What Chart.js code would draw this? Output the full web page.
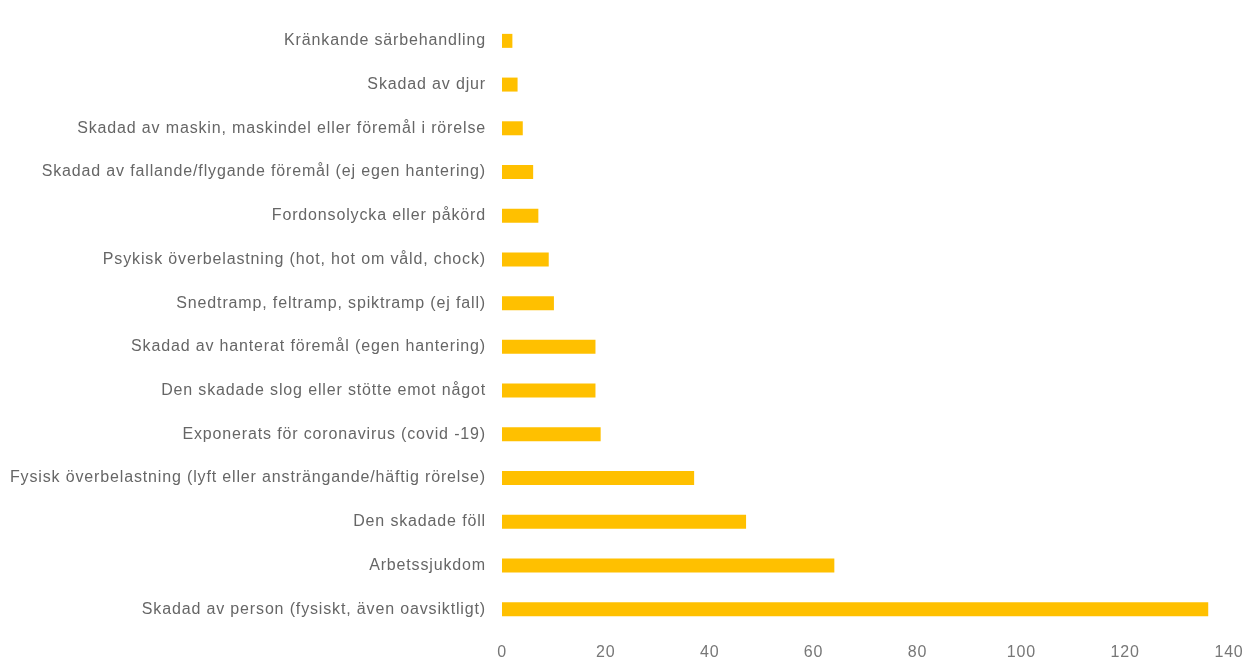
<!DOCTYPE html>
<html>
<head>
<meta charset="utf-8">
<script src="https://cdn.jsdelivr.net/npm/chart.js@4"></script>
<style>
html,body{margin:0;padding:0;background:#fff;}
#wrap{width:1246px;height:660px;position:relative;}
</style>
</head>
<body>
<div id="wrap"><canvas id="c" width="1246" height="660"></canvas></div>
<script>
const categories = [
  "Kränkande särbehandling",
  "Skadad av djur",
  "Skadad av maskin, maskindel eller föremål i rörelse",
  "Skadad av fallande/flygande föremål (ej egen hantering)",
  "Fordonsolycka eller påkörd",
  "Psykisk överbelastning (hot, hot om våld, chock)",
  "Snedtramp, feltramp, spiktramp (ej fall)",
  "Skadad av hanterat föremål (egen hantering)",
  "Den skadade slog eller stötte emot något",
  "Exponerats för coronavirus (covid -19)",
  "Fysisk överbelastning (lyft eller ansträngande/häftig rörelse)",
  "Den skadade föll",
  "Arbetssjukdom",
  "Skadad av person (fysiskt, även oavsiktligt)"
];
const values = [2, 3, 4, 6, 7, 9, 10, 18, 18, 19, 37, 47, 64, 136];
const xTicks = [0, 20, 40, 60, 80, 100, 120, 140];

Chart.defaults.font.family = "'Liberation Sans', Arial, sans-serif";
Chart.defaults.font.size = 16;
Chart.defaults.color = "#666666";

const spacingPlugin = {
  id: 'spacing',
  beforeDraw(chart) { chart.ctx.letterSpacing = '0.85px'; }
};

new Chart(document.getElementById('c'), {
  type: 'bar',
  data: {
    labels: categories,
    datasets: [{
      data: values,
      backgroundColor: '#FFC000',
      borderWidth: 0,
      barPercentage: 0.64,
      categoryPercentage: 0.5
    }]
  },
  options: {
    indexAxis: 'y',
    responsive: false,
    animation: false,
    layout: { padding: { left: 0, right: 17, top: 19, bottom: 0 } },
    plugins: { legend: { display: false }, tooltip: { enabled: false } },
    scales: {
      x: {
        min: 0, max: 140,
        afterBuildTicks: s => { s.ticks = xTicks.map(v => ({ value: v })); },
        afterFit: s => { s.height = 29; s.paddingLeft = 0; s.paddingRight = 0; },
        grid: { display: false, drawTicks: false },
        border: { display: false },
        ticks: { padding: 12, color: '#777777' }
      },
      y: {
        grid: { display: false, drawTicks: false },
        border: { display: false },
        afterFit: s => { s.width = 502; s.paddingTop = 0; s.paddingBottom = 0; },
        ticks: { padding: 16, color: '#666666', autoSkip: false }
      }
    }
  },
  plugins: [spacingPlugin]
});
</script>
</body>
</html>
